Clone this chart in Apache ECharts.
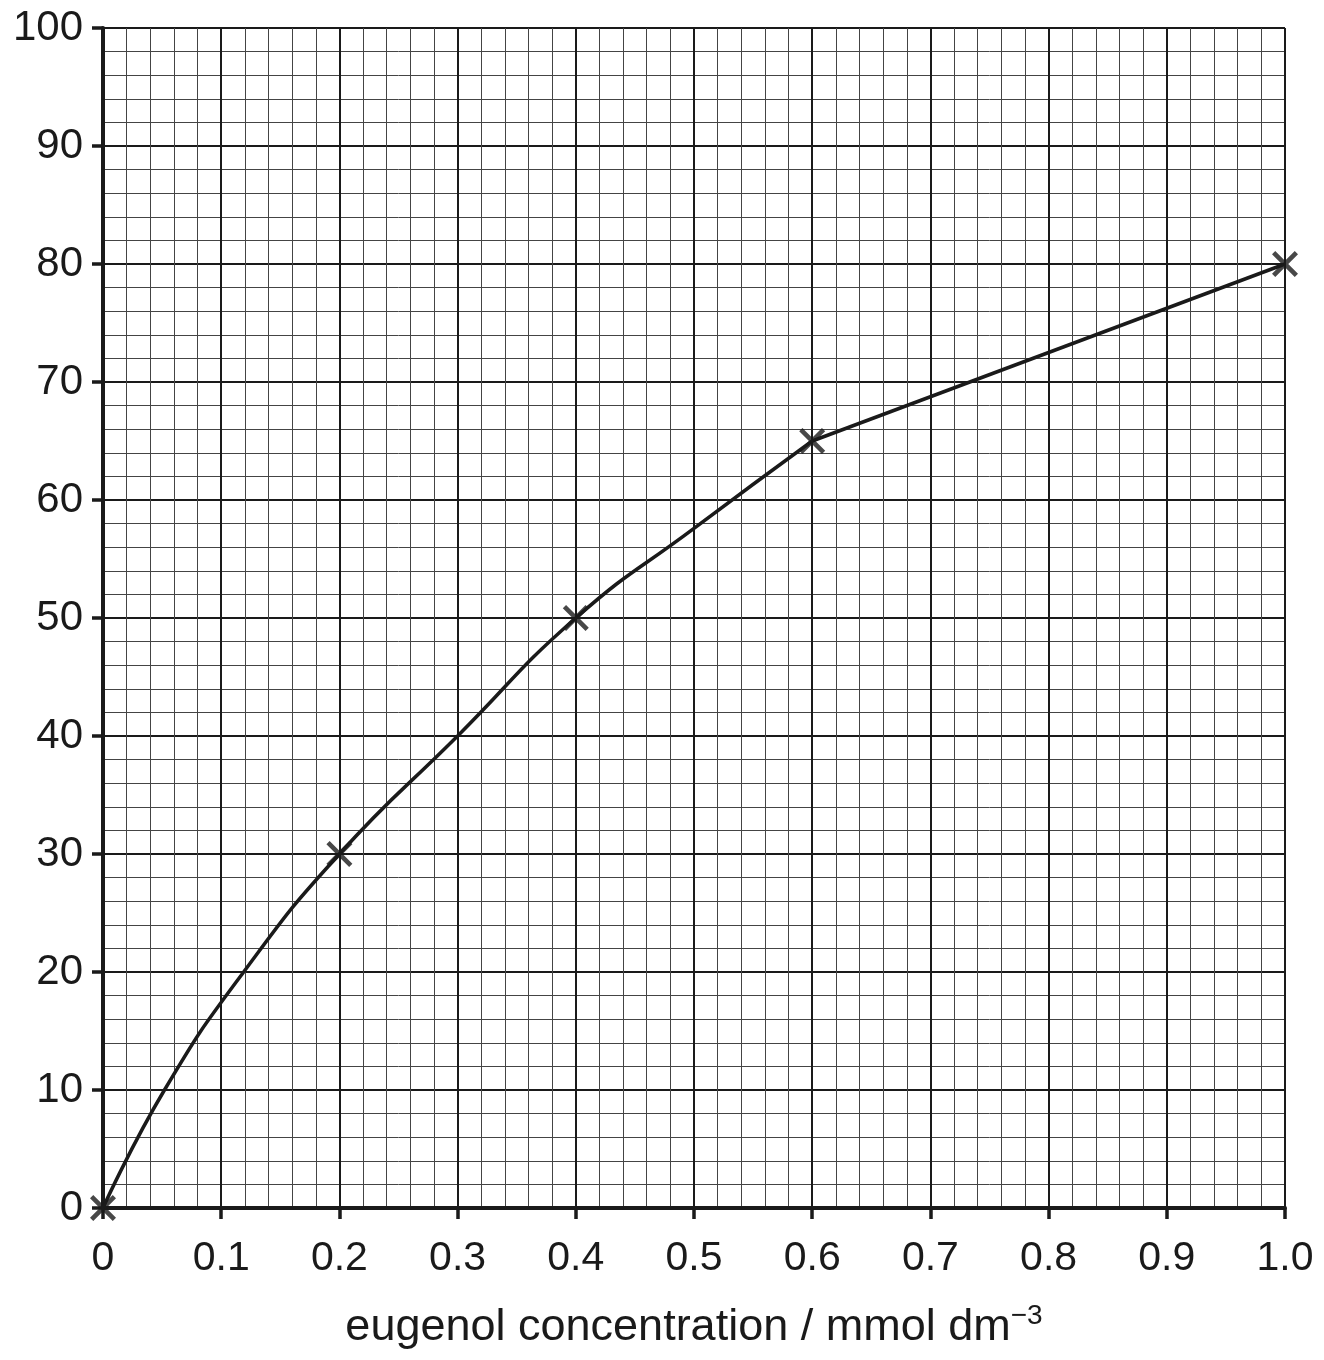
<!DOCTYPE html>
<html>
<head>
<meta charset="utf-8">
<script src="https://cdn.jsdelivr.net/npm/echarts@6/dist/echarts.min.js"></script>
<style>
  html, body { margin: 0; padding: 0; background: #fff; }
  #chart { width: 1324px; height: 1360px; }
</style>
</head>
<body>
<div id="chart"></div>
<script>
// measured points (crosses)
var pointX = [0, 0.2, 0.4, 0.6, 1.0];
var pointY = [0, 30, 50, 65, 80];

// curve drawn through them
var curveX = [0, 0.052, 0.119, 0.2, 0.3, 0.4, 0.5, 0.6];
var curveY = [0, 10, 20, 30, 40, 50, 57.6, 65];
// straight part after 0.6
var lineX = [0.6, 1.0];
var lineY = [65, 80];

var ink = '#1a1a1a';
var font = "'Liberation Sans', Arial, Helvetica, sans-serif";

function pairs(xs, ys) {
  return xs.map(function (x, i) { return [x, ys[i]]; });
}

// thick "x" marker
var crossPath = 'path://M0,3L3,0L12,9L21,0L24,3L15,12L24,21L21,24L12,15L3,24L0,21L9,12Z';

var myChart = echarts.init(document.getElementById('chart'));

var option = {
  backgroundColor: '#fff',
  animation: false,
  grid: { left: 103, right: 39, top: 28, bottom: 152 },
  xAxis: {
    type: 'value',
    min: 0,
    max: 1,
    interval: 0.1,
    name: '{a|eugenol concentration / mmol dm}{b|−3}',
    nameLocation: 'middle',
    nameGap: 94,
    nameTextStyle: {
      rich: {
        a: { fontFamily: font, fontSize: 45, color: ink, lineHeight: 52 },
        b: { fontFamily: font, fontSize: 28, color: ink, verticalAlign: 'top', lineHeight: 28 }
      }
    },
    axisLine: { show: true, onZero: false, lineStyle: { color: ink, width: 4 } },
    axisTick: { show: true, inside: false, length: 11, lineStyle: { color: ink, width: 3.5 } },
    axisLabel: {
      margin: 30,
      fontFamily: font,
      fontSize: 41,
      color: ink,
      formatter: function (v) { return v === 0 ? '0' : v.toFixed(1); }
    },
    splitLine: { show: true, lineStyle: { color: ink, width: 2 } },
    minorTick: { show: false, splitNumber: 5 },
    minorSplitLine: { show: true, lineStyle: { color: '#444', width: 1 } }
  },
  yAxis: {
    type: 'value',
    min: 0,
    max: 100,
    interval: 10,
    axisLine: { show: true, onZero: false, lineStyle: { color: ink, width: 4 } },
    axisTick: { show: true, inside: false, length: 11, lineStyle: { color: ink, width: 3.5 } },
    axisLabel: {
      margin: 20,
      fontFamily: font,
      fontSize: 42,
      color: ink
    },
    splitLine: { show: true, lineStyle: { color: ink, width: 2 } },
    minorTick: { show: false, splitNumber: 5 },
    minorSplitLine: { show: true, lineStyle: { color: '#444', width: 1 } }
  },
  series: [
    {
      type: 'line',
      data: pairs(curveX, curveY),
      smooth: 0.5,
      showSymbol: false,
      clip: false,
      lineStyle: { color: ink, width: 3.5 },
      z: 3
    },
    {
      type: 'line',
      data: pairs(lineX, lineY),
      showSymbol: false,
      clip: false,
      lineStyle: { color: ink, width: 3.5 },
      z: 3
    },
    {
      type: 'scatter',
      data: pairs(pointX, pointY),
      symbol: crossPath,
      symbolSize: 26,
      clip: false,
      itemStyle: { color: ink },
      z: 4
    }
  ]
};

myChart.setOption(option);
</script>
</body>
</html>
